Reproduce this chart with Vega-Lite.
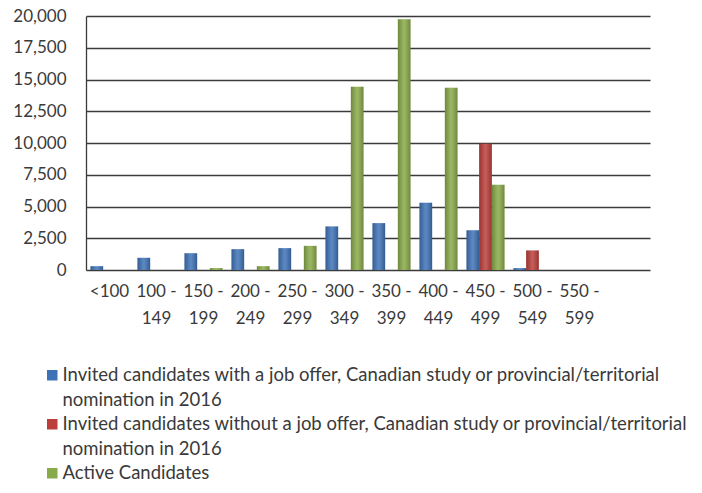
{
  "$schema": "https://vega.github.io/schema/vega-lite/v6.json",
  "width": 564,
  "height": 254,
  "autosize": "none",
  "padding": {"left": 86, "top": 16, "right": 52, "bottom": 223},
  "background": "white",
  "config": {
    "view": {"stroke": null},
    "font": "Lato",
    "style": {"guide-label": {"lineHeight": 25}},
    "axis": {"labelFont": "Lato", "labelColor": "#3a3a3a", "labelFontSize": 17}
  },
  "data": {
    "values": [
      {"range": "<100", "series": "Invited candidates with a job offer, Canadian study or provincial/territorial nomination in 2016", "value": 300},
      {"range": "100 - 149", "series": "Invited candidates with a job offer, Canadian study or provincial/territorial nomination in 2016", "value": 960},
      {"range": "150 - 199", "series": "Invited candidates with a job offer, Canadian study or provincial/territorial nomination in 2016", "value": 1320},
      {"range": "200 - 249", "series": "Invited candidates with a job offer, Canadian study or provincial/territorial nomination in 2016", "value": 1640},
      {"range": "250 - 299", "series": "Invited candidates with a job offer, Canadian study or provincial/territorial nomination in 2016", "value": 1720},
      {"range": "300 - 349", "series": "Invited candidates with a job offer, Canadian study or provincial/territorial nomination in 2016", "value": 3430},
      {"range": "350 - 399", "series": "Invited candidates with a job offer, Canadian study or provincial/territorial nomination in 2016", "value": 3690},
      {"range": "400 - 449", "series": "Invited candidates with a job offer, Canadian study or provincial/territorial nomination in 2016", "value": 5290},
      {"range": "450 - 499", "series": "Invited candidates with a job offer, Canadian study or provincial/territorial nomination in 2016", "value": 3130},
      {"range": "500 - 549", "series": "Invited candidates with a job offer, Canadian study or provincial/territorial nomination in 2016", "value": 150},
      {"range": "550 - 599", "series": "Invited candidates with a job offer, Canadian study or provincial/territorial nomination in 2016", "value": 0},
      {"range": "<100", "series": "Invited candidates without a job offer, Canadian study or provincial/territorial nomination in 2016", "value": 0},
      {"range": "100 - 149", "series": "Invited candidates without a job offer, Canadian study or provincial/territorial nomination in 2016", "value": 0},
      {"range": "150 - 199", "series": "Invited candidates without a job offer, Canadian study or provincial/territorial nomination in 2016", "value": 0},
      {"range": "200 - 249", "series": "Invited candidates without a job offer, Canadian study or provincial/territorial nomination in 2016", "value": 0},
      {"range": "250 - 299", "series": "Invited candidates without a job offer, Canadian study or provincial/territorial nomination in 2016", "value": 0},
      {"range": "300 - 349", "series": "Invited candidates without a job offer, Canadian study or provincial/territorial nomination in 2016", "value": 0},
      {"range": "350 - 399", "series": "Invited candidates without a job offer, Canadian study or provincial/territorial nomination in 2016", "value": 0},
      {"range": "400 - 449", "series": "Invited candidates without a job offer, Canadian study or provincial/territorial nomination in 2016", "value": 0},
      {"range": "450 - 499", "series": "Invited candidates without a job offer, Canadian study or provincial/territorial nomination in 2016", "value": 9950},
      {"range": "500 - 549", "series": "Invited candidates without a job offer, Canadian study or provincial/territorial nomination in 2016", "value": 1540},
      {"range": "550 - 599", "series": "Invited candidates without a job offer, Canadian study or provincial/territorial nomination in 2016", "value": 0},
      {"range": "<100", "series": "Active Candidates", "value": 0},
      {"range": "100 - 149", "series": "Active Candidates", "value": 0},
      {"range": "150 - 199", "series": "Active Candidates", "value": 150},
      {"range": "200 - 249", "series": "Active Candidates", "value": 300},
      {"range": "250 - 299", "series": "Active Candidates", "value": 1900},
      {"range": "300 - 349", "series": "Active Candidates", "value": 14430},
      {"range": "350 - 399", "series": "Active Candidates", "value": 19750},
      {"range": "400 - 449", "series": "Active Candidates", "value": 14350},
      {"range": "450 - 499", "series": "Active Candidates", "value": 6710},
      {"range": "500 - 549", "series": "Active Candidates", "value": 0},
      {"range": "550 - 599", "series": "Active Candidates", "value": 0}
    ]
  },
  "encoding": {
    "x": {
      "field": "range",
      "type": "nominal",
      "sort": null,
      "scale": {
        "domain": ["<100", "100 - 149", "150 - 199", "200 - 249", "250 - 299", "300 - 349", "350 - 399", "400 - 449", "450 - 499", "500 - 549", "550 - 599", "600+"],
        "paddingInner": 0.19,
        "paddingOuter": 0.095
      },
      "axis": {
        "title": null,
        "domain": false,
        "ticks": false,
        "labelAngle": 0,
        "labelPadding": 13,
        "labelLineHeight": 27,
        "labelBaseline": "top",
        "labelExpr": "datum.value == '<100' ? '<100' : (datum.value == '600+' ? '' : [split(datum.value, ' - ')[0] + ' -', split(datum.value, ' - ')[1]])"
      }
    },
    "xOffset": {
      "field": "series",
      "type": "nominal",
      "sort": null,
      "scale": {
        "domain": ["Invited candidates with a job offer, Canadian study or provincial/territorial nomination in 2016", "Invited candidates without a job offer, Canadian study or provincial/territorial nomination in 2016", "Active Candidates"],
        "paddingInner": 0,
        "paddingOuter": 0
      }
    },
    "y": {
      "field": "value",
      "type": "quantitative",
      "scale": {"domain": [0, 20000], "nice": false},
      "axis": {
        "title": null,
        "values": [0, 2500, 5000, 7500, 10000, 12500, 15000, 17500, 20000],
        "format": ",d",
        "grid": true,
        "gridColor": "#3a3a3a",
        "gridWidth": 1.3,
        "domain": true,
        "domainColor": "#3a3a3a",
        "domainWidth": 1.3,
        "ticks": false,
        "labelPadding": 20
      }
    }
  },
  "layer": [
    {
      "mark": {"type": "bar"},
      "encoding": {
        "color": {
          "field": "series",
          "type": "nominal",
          "sort": null,
          "scale": {
            "domain": ["Invited candidates with a job offer, Canadian study or provincial/territorial nomination in 2016", "Invited candidates without a job offer, Canadian study or provincial/territorial nomination in 2016", "Active Candidates"],
            "range": ["#3e72b7", "#bb3e3a", "#88aa48"]
          },
          "legend": {
            "title": null,
            "orient": "none",
            "legendX": -43,
            "legendY": 350,
            "direction": "vertical",
            "symbolType": "square",
            "symbolSize": 110,
            "symbolStrokeWidth": 0,
            "labelFont": "Lato",
            "labelFontSize": 18.5,
            "labelColor": "#3a3a3a",
            "labelLimit": 700,
            "labelOffset": 1,
            "rowPadding": 5,
            "labelExpr": "datum.label == 'Active Candidates' ? datum.label : split(replace(datum.label, ' nomination', '|nomination'), '|')"
          }
        }
      }
    },
    {
      "mark": {
        "type": "bar",
        "fill": {
          "gradient": "linear",
          "x1": 0, "y1": 0, "x2": 1, "y2": 0,
          "stops": [
            {"offset": 0, "color": "rgba(0,0,0,0.2)"},
            {"offset": 0.5, "color": "rgba(255,255,255,0.16)"},
            {"offset": 1, "color": "rgba(0,0,0,0.2)"}
          ]
        }
      },
      "encoding": {}
    }
  ]
}
